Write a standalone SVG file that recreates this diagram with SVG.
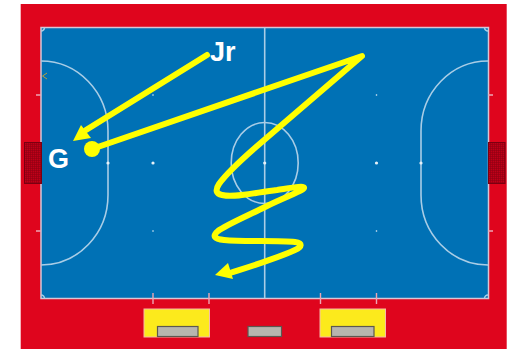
<svg xmlns="http://www.w3.org/2000/svg" width="512" height="349" viewBox="0 0 512 349">
<defs>
<pattern id="net" width="2" height="2" patternUnits="userSpaceOnUse"><rect width="2" height="2" fill="#c00018"/><path d="M0 .5H2M.5 0V2" stroke="#8e0012" stroke-width=".6"/></pattern>
</defs>
<style>
.ln{fill:none;stroke:#a9cde6;stroke-width:1.6}
.mk{fill:none;stroke:#eda6b4;stroke-width:1.4}
.dot{fill:#e6f1f8}
.goal{fill:url(#net);stroke:#7a0010;stroke-width:1}
.box{fill:#fcea1c;stroke:#f6b9a8;stroke-width:1}
.bench{fill:#b7b5ae;stroke:#5c5850;stroke-width:1.2}
.arrow{fill:none;stroke:#ffff00;stroke-width:6;stroke-linecap:round;stroke-linejoin:round}
.head{fill:#ffff00}
text{font-family:"Liberation Sans",Arial,sans-serif;font-weight:700;fill:#fff;font-size:27px}
</style>
<rect width="512" height="349" fill="#fff"/>
<g id="court">
<rect x="20.700" y="4" width="486" height="345" fill="#df051d"/>
<rect x="41" y="27.500" width="447.500" height="271" fill="#0071b5" stroke="#d6c6d6" stroke-width="1.500"/>
<path class="ln" d="M264.700 27.500V298.500"/>
<ellipse class="ln" cx="264.700" cy="163" rx="33.500" ry="40.500"/>
<path class="ln" d="M41 61A67 70 0 0 1 108 131V195A67 70 0 0 1 41 265"/>
<path class="ln" d="M488 61A67 70 0 0 0 421 131V195A67 70 0 0 0 488 265"/>
<path class="ln" d="M41 31A3.500 3.500 0 0 0 44.500 27.500M41 295A3.500 3.500 0 0 1 44.500 298.500M488 31A3.500 3.500 0 0 1 484.500 27.500M488 295A3.500 3.500 0 0 0 484.500 298.500"/>
<path class="mk" d="M36 95H41M36 231H41M488 95H493M488 231H493M153 293V304M209 293V304M320.500 293V304M376.500 293V304"/>
<path d="M47 73L42.500 76L47 79" fill="none" stroke="#b9a03c" stroke-width="1"/>
<circle class="dot" cx="108" cy="163" r="1.600"/><circle class="dot" cx="153" cy="163" r="1.600"/><circle class="dot" cx="264.700" cy="163" r="1.600"/><circle class="dot" cx="376.500" cy="163" r="1.600"/><circle class="dot" cx="421" cy="163" r="1.600"/>
<circle class="dot" cx="153" cy="95" r=".8"/><circle class="dot" cx="153" cy="231" r=".8"/><circle class="dot" cx="376.500" cy="95" r=".8"/><circle class="dot" cx="376.500" cy="231" r=".8"/>
</g>
<g id="goal-left"><rect class="goal" x="24.500" y="142.500" width="17" height="41"/></g>
<g id="goal-right"><rect class="goal" x="488.500" y="142.500" width="16.500" height="41"/></g>
<g id="zone-left"><rect class="box" x="144" y="309" width="65.500" height="28"/><rect class="bench" x="157.500" y="326.500" width="40.500" height="10"/></g>
<g id="bench-middle"><rect class="bench" x="248" y="326.500" width="33.500" height="10"/></g>
<g id="zone-right"><rect class="box" x="320" y="309" width="65.500" height="28"/><rect class="bench" x="331.500" y="326.500" width="42.500" height="10"/></g>
<g id="connectors">
<path class="arrow" d="M207 55L86 130"/>
<polygon class="head" points="73,141 81,125 91,138"/>
<path class="arrow" d="M92 149L362 56L256 147C240 161 226 174 219 184C215 190 216 194 222 195C236 198 258 192 277 190C290 188 305 185 304 188C303 191 285 197 265 207C247 216 226 225 218 231C212 236 214 239 224 240C245 242 278 240 295 242C303 243 302 247 295 250C278 258 255 265 230 273"/>
<polygon class="head" points="215,275 228,263 233,279"/>
</g>
<g id="player-g"><circle cx="92" cy="149" r="8" fill="#ffff00"/><text x="48" y="167.500">G</text></g>
<g id="player-jr"><text x="210" y="60.500">Jr</text></g>
</svg>
